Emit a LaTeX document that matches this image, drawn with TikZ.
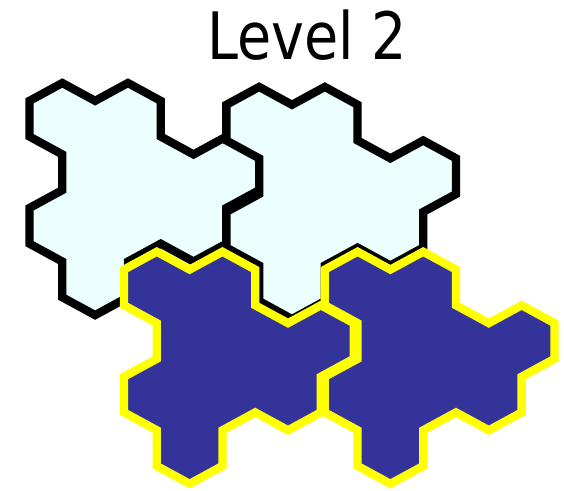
\documentclass[tikz,border=0pt]{standalone}
\usepackage{fontspec}
\newfontfamily\titlefont[FakeStretch=0.85]{DejaVu Sans}
\usepackage{tikz}
\definecolor{paleaqua}{HTML}{EBFFFF}
\definecolor{tileblue}{HTML}{333399}
\definecolor{tileyellow}{HTML}{FFFF00}
\newcommand{\tileoutline}{(0,1) -- (1,0) -- (2,1) -- (3,0) -- (4,1) -- (4,3) -- (5,4) -- (6,3)
  -- (7,4) -- (7,6) -- (6,7) -- (6,9) -- (5,10) -- (4,9) -- (3,10) -- (3,12) -- (2,13)
  -- (1,12) -- (1,10) -- (0,9) -- (0,7) -- (1,6) -- (1,4) -- (0,3) -- cycle}

\begin{document}
\begin{tikzpicture}[x=0.025cm, y=-0.025cm,
      lighttile/.style={draw=black, fill=paleaqua, line width=5.9pt},
      darktile/.style={draw=tileyellow, fill=tileblue, line width=5.9pt},
      heading/.style={font=\titlefont\fontsize{46.5}{50}\selectfont, inner sep=0pt}
    ]
    \useasboundingbox (0,0) rectangle (564,491);
    \node[heading, anchor=base] (title) at (307,59.3) {Level 2};
    \begin{scope}[shift={(29.5,83)}, x=0.82cm, y=-0.44625cm]
      \draw[lighttile] \tileoutline;
      \draw[lighttile, shift={(6,0.22)}] \tileoutline;
      \draw[darktile, shift={(2.88,9.45)}] \tileoutline;
      \draw[darktile, shift={(9,9.45)}] \tileoutline;
    \end{scope}
  \end{tikzpicture}
\end{document}
